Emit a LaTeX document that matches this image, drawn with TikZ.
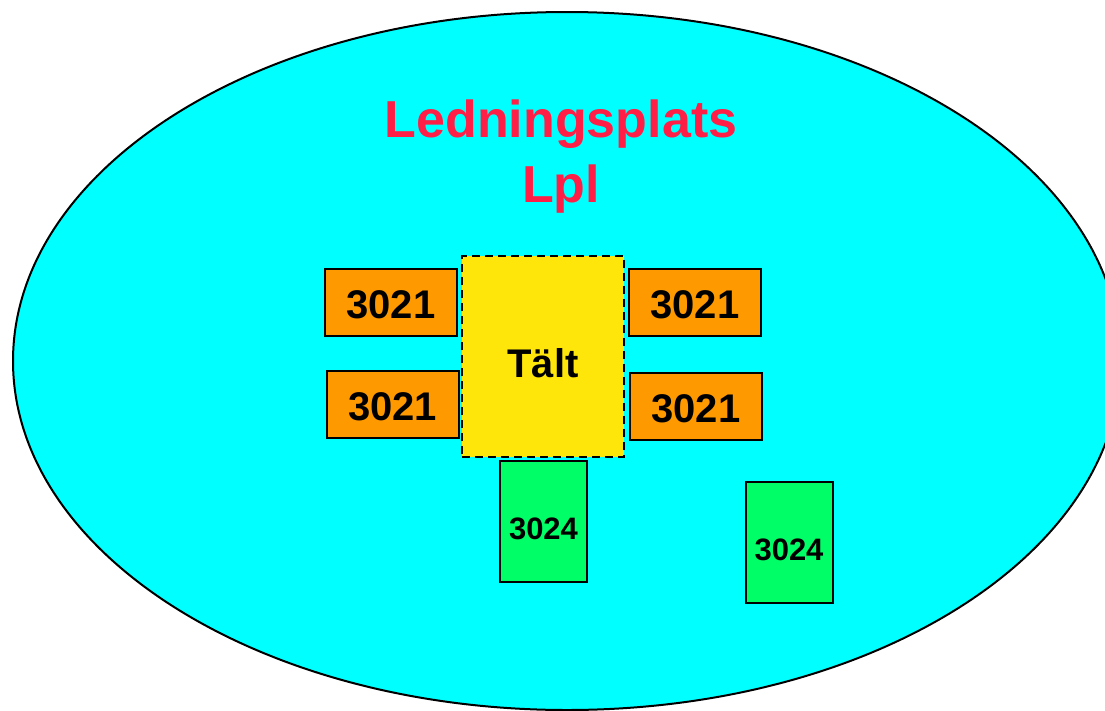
\documentclass[tikz,border=0pt]{standalone}
\usepackage{fontspec}
\setmainfont{Liberation Sans}
\usetikzlibrary{shapes.geometric}
\definecolor{cyanbg}{RGB}{0,255,255}
\definecolor{orangebox}{RGB}{255,153,0}
\definecolor{yellowbox}{RGB}{255,230,10}
\definecolor{greenbox}{RGB}{0,255,102}
\definecolor{titlered}{RGB}{255,30,70}
\tikzset{
  unitbox/.style={draw=black, line width=2pt, fill=orangebox, inner sep=0pt,
    minimum width=132pt, minimum height=67pt, text height=32.6pt, text depth=0pt,
    font=\fontsize{40}{44}\selectfont\bfseries},
  tentbox/.style={draw=black, line width=2pt, dash pattern=on 8pt off 5pt,
    fill=yellowbox, inner sep=0pt, minimum width=162pt, minimum height=201pt,
    text height=41.6pt, text depth=0pt,
    font=\fontsize{40}{44}\selectfont\bfseries},
  vehbox/.style={draw=black, line width=2pt, fill=greenbox, inner sep=0pt,
    minimum width=87pt, minimum height=121pt, text height=36.5pt, text depth=0pt,
    font=\fontsize{31}{34}\selectfont\bfseries},
}
\begin{document}
\begin{tikzpicture}[x=1pt,y=-1pt]
\useasboundingbox (0,0) rectangle (1105,710);
\node[ellipse, draw=black, line width=2pt, fill=cyanbg, minimum width=1108pt, minimum height=698pt, inner sep=0pt] (lpl) at (567,361) {};
\node[text=titlered, align=center, font=\fontsize{52}{65}\selectfont\bfseries] (title) at (561,157) {Ledningsplats\\Lpl};
\node[tentbox] (talt) at (543,356.5) {Tält};
\node[unitbox] (u1) at (391,302) {3021};
\node[unitbox] (u2) at (392.5,404.5) {3021};
\node[unitbox] (u3) at (695,302) {3021};
\node[unitbox] (u4) at (696,406.5) {3021};
\node[vehbox] (v1) at (543.5,521) {3024};
\node[vehbox] (v2) at (789,542.5) {3024};
\end{tikzpicture}
\end{document}
